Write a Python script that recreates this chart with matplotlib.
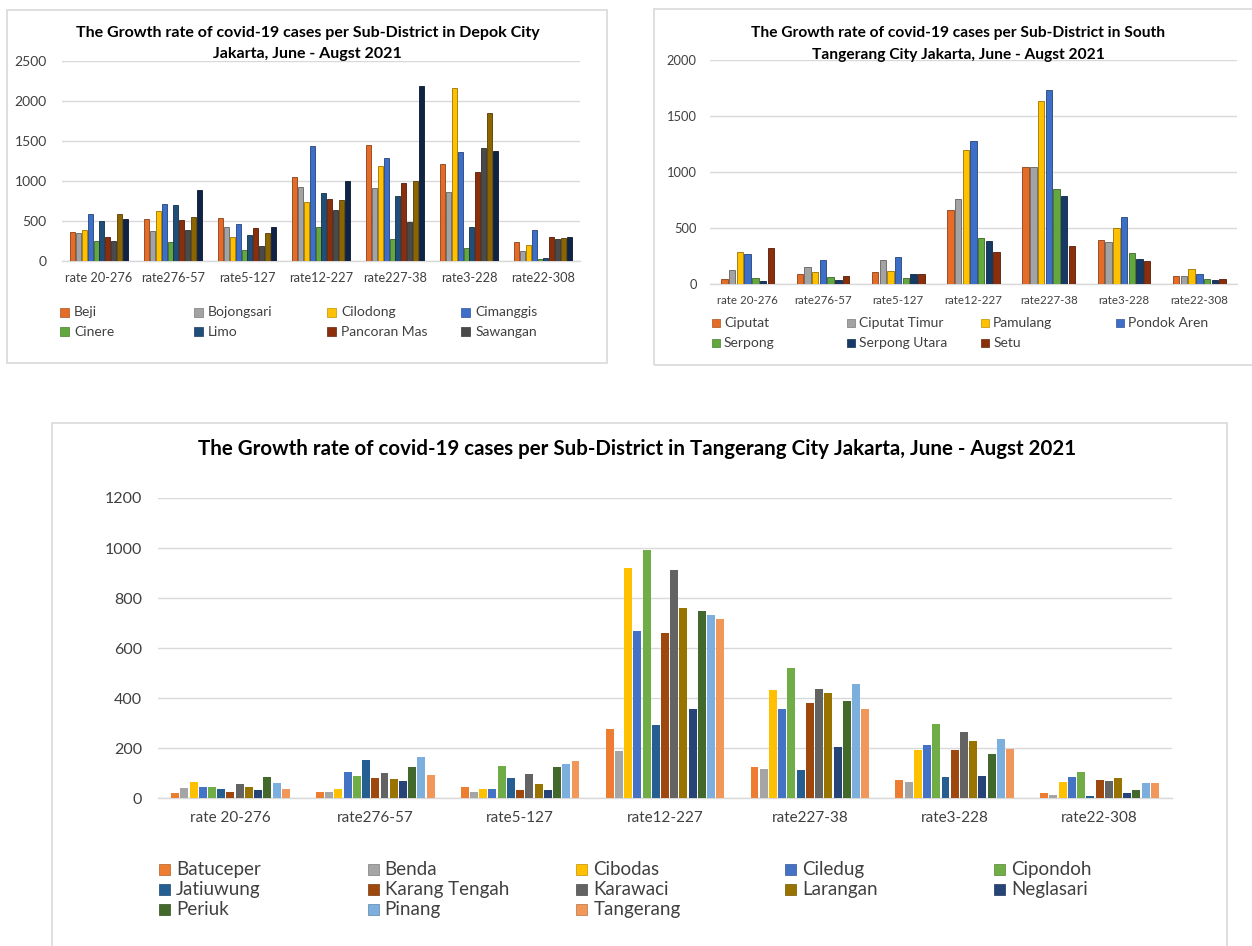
import matplotlib
matplotlib.use('Agg')
import matplotlib.pyplot as plt
import matplotlib.colors as mcolors
from matplotlib.patches import Rectangle
import numpy as np

W, H = 1252, 946
plt.rcParams['font.family'] = ['Lato', 'DejaVu Sans']

rates = ['rate 20-276', 'rate276-57', 'rate5-127', 'rate12-227',
         'rate227-38', 'rate3-228', 'rate22-308']

# Depok City (legend in the source only shows the first 8 districts)
depok_names = ['Beji', 'Bojongsari', 'Cilodong', 'Cimanggis', 'Cinere',
               'Limo', 'Pancoran Mas', 'Sawangan', 'Sukmajaya', 'Tapos']
depok_values = [
    [358, 521, 529, 1050, 1446, 1208, 238],
    [342, 371, 417, 925, 908, 854, 117],
    [388, 621, 296, 733, 1183, 2163, 196],
    [588, 708, 454, 1429, 1283, 1354, 379],
    [246, 238, 133, 417, 275, 154, 21],
    [492, 700, 321, 842, 813, 425, 38],
    [292, 508, 404, 767, 967, 1113, 300],
    [246, 388, 183, 633, 488, 1408, 275],
    [579, 546, 342, 754, 992, 1842, 283],
    [521, 879, 417, 1000, 2183, 1371, 292],
]
depok_colors = ['#E46C28', '#A3A3A3', '#FFC000', '#3E6FC8', '#63A83F',
                '#1F4E79', '#8B2E0B', '#4A4A4A', '#8C6400', '#0F2346']

# South Tangerang City
south_names = ['Ciputat', 'Ciputat Timur', 'Pamulang', 'Pondok Aren',
               'Serpong', 'Serpong Utara', 'Setu']
south_values = [
    [45, 84, 104, 657, 1045, 388, 66],
    [122, 149, 215, 761, 1045, 373, 66],
    [287, 104, 113, 1194, 1633, 498, 131],
    [269, 209, 236, 1275, 1737, 597, 84],
    [51, 60, 51, 406, 848, 275, 45],
    [24, 36, 84, 382, 788, 218, 36],
    [316, 69, 84, 281, 340, 203, 39],
]
south_colors = ['#E46C28', '#A3A3A3', '#FFC000', '#3E6FC8', '#63A83F',
                '#153A66', '#8B2E0B']

# Tangerang City
tang_names = ['Batuceper', 'Benda', 'Cibodas', 'Ciledug', 'Cipondoh',
              'Jatiuwung', 'Karang Tengah', 'Karawaci', 'Larangan',
              'Neglasari', 'Periuk', 'Pinang', 'Tangerang']
tang_values = [
    [20, 24, 44, 276, 124, 73, 21],
    [41, 24, 24, 189, 117, 67, 15],
    [67, 37, 37, 922, 432, 193, 65],
    [47, 105, 37, 667, 356, 212, 85],
    [47, 89, 128, 992, 519, 297, 105],
    [37, 153, 83, 292, 112, 84, 8],
    [24, 83, 33, 659, 380, 193, 73],
    [56, 101, 99, 912, 438, 264, 69],
    [47, 77, 59, 759, 421, 228, 80],
    [35, 69, 33, 356, 205, 89, 21],
    [85, 125, 124, 747, 389, 177, 33],
    [60, 166, 137, 734, 457, 237, 60],
    [37, 95, 151, 715, 357, 198, 60],
]
tang_colors = ['#ED7D31', '#A5A5A5', '#FFC000', '#4472C4', '#70AD47',
               '#255E91', '#9E480E', '#636363', '#997300', '#264478',
               '#43682B', '#7CAFDD', '#F1975A']


def darker(c, f=0.6):
    r, g, b = mcolors.to_rgb(c)
    return (r * f, g * f, b * f)


def make_axes(fig, left, right, top, bottom):
    # pixel box -> figure fraction
    return fig.add_axes([left / W, 1 - bottom / H, (right - left) / W, (bottom - top) / H])


def draw_bars(ax, values, colors, slot, width, ymax, step, outline,
              ytick_size, xtick_size, ypad, xpad):
    x = np.arange(len(rates))
    n = len(values)
    for i, vals in enumerate(values):
        offs = (i - (n - 1) / 2) * slot
        if outline:
            ax.bar(x + offs, vals, width, color=colors[i],
                   edgecolor=darker(colors[i]), linewidth=0.6, zorder=3)
        else:
            ax.bar(x + offs, vals, width, color=colors[i], linewidth=0, zorder=3)
    ax.set_xlim(-0.5, len(rates) - 0.5)
    ax.set_ylim(0, ymax)
    ax.set_yticks(np.arange(0, ymax + 1, step))
    ax.set_xticks(x)
    ax.set_xticklabels(rates)
    ax.grid(axis='y', color='#D9D9D9', linewidth=1.0, zorder=0)
    ax.set_axisbelow(True)
    for s in ['top', 'right', 'left']:
        ax.spines[s].set_visible(False)
    ax.spines['bottom'].set_color('#D9D9D9')
    ax.spines['bottom'].set_linewidth(1.0)
    ax.tick_params(axis='y', length=0, labelsize=ytick_size, pad=ypad, labelcolor='#404040')
    ax.tick_params(axis='x', length=0, labelsize=xtick_size, pad=xpad, labelcolor='#404040')
    ax.patch.set_alpha(0)


def draw_legend(fig, names, colors, x0, y0, dx, dy, ncol, box, gap, fontsize):
    for i, name in enumerate(names):
        r, c = divmod(i, ncol)
        x = x0 + c * dx
        y = y0 + r * dy
        fig.add_artist(Rectangle((x / W, 1 - (y + box / 2) / H), box / W, box / H,
                                 transform=fig.transFigure, facecolor=colors[i],
                                 edgecolor=darker(colors[i], 0.75), linewidth=0.5))
        fig.text((x + box + gap) / W, 1 - y / H, name, va='center', ha='left',
                 fontsize=fontsize, color='#404040')


def draw_frame(fig, left, top, right, bottom):
    fig.add_artist(Rectangle((left / W, 1 - bottom / H), (right - left) / W, (bottom - top) / H,
                             transform=fig.transFigure, fill=False,
                             edgecolor='#D9D9D9', linewidth=1.2))


fig = plt.figure(figsize=(W / 100, H / 100), dpi=100)
fig.patch.set_facecolor('white')

# ---- Depok ----
draw_frame(fig, 7, 10, 607, 363)
ax1 = make_axes(fig, 62, 580, 60.7, 260.7)
draw_bars(ax1, depok_values, depok_colors, 0.0784, 0.066, 2500, 500, True,
          10, 9.2, 11, 8)
fig.text(308 / W, 1 - 33 / H, 'The Growth rate of covid-19 cases per Sub-District in Depok City',
         ha='center', va='center', fontsize=11.5, fontweight='bold')
fig.text(307 / W, 1 - 54 / H, 'Jakarta, June - Augst 2021',
         ha='center', va='center', fontsize=11.5, fontweight='bold')
draw_legend(fig, depok_names[:8], depok_colors, 60, 312, 133.7, 20, 4, 9, 5, 10)

# ---- South Tangerang ----
draw_frame(fig, 654, 9, 1262, 365)
ax2 = make_axes(fig, 710, 1237, 60.3, 283.7)
draw_bars(ax2, south_values, south_colors, 0.1024, 0.084, 2000, 500, True,
          9.3, 8.3, 9.5, 8)
fig.text(958 / W, 1 - 33 / H, 'The Growth rate of covid-19 cases per Sub-District in South',
         ha='center', va='center', fontsize=11.2, fontweight='bold')
fig.text(958 / W, 1 - 55 / H, 'Tangerang City Jakarta, June - Augst 2021',
         ha='center', va='center', fontsize=11.2, fontweight='bold')
draw_legend(fig, south_names, south_colors, 712, 323, 134.6, 20, 4, 8, 4, 10)

# ---- Tangerang ----
draw_frame(fig, 52, 423, 1227, 960)
ax3 = make_axes(fig, 158, 1172, 498, 798.3)
draw_bars(ax3, tang_values, tang_colors, 0.0637, 0.055, 1200, 200, False,
          11.5, 11, 11.5, 9)
fig.text(637.5 / W, 1 - 449 / H,
         'The Growth rate of covid-19 cases per Sub-District in Tangerang City Jakarta, June - Augst 2021',
         ha='center', va='center', fontsize=14.8, fontweight='bold')
draw_legend(fig, tang_names, tang_colors, 159, 869, 208.7, 20, 5, 11, 6, 13.5)

fig.savefig('out.png', dpi=100, facecolor='white')
